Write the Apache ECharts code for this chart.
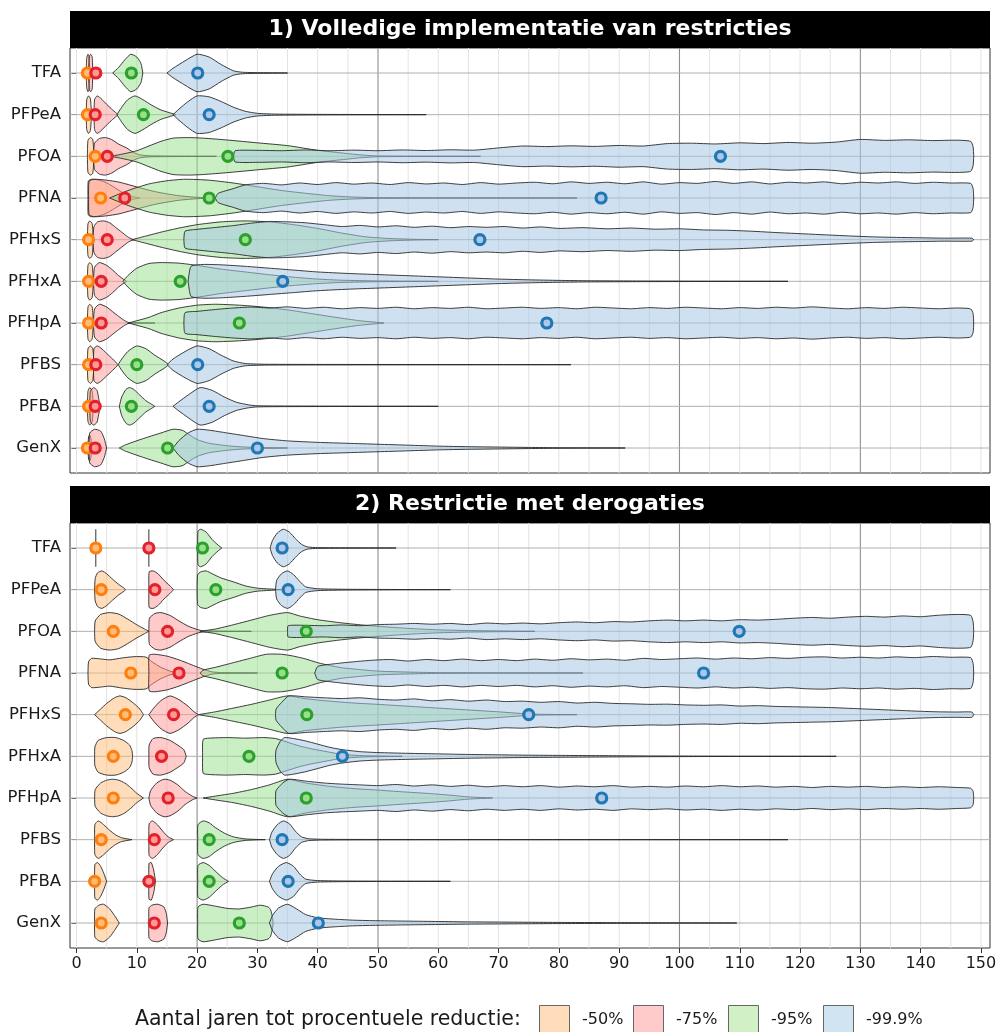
<!DOCTYPE html>
<html><head><meta charset="utf-8">
<script src="https://cdn.jsdelivr.net/npm/echarts@6/dist/echarts.min.js"></script>
<style>html,body{margin:0;padding:0;background:#fff}#c{width:1000px;height:1032px}</style>
</head><body><div id="c"></div>
<script>
// ---------- data ----------
const categories = ['TFA','PFPeA','PFOA','PFNA','PFHxS','PFHxA','PFHpA','PFBS','PFBA','GenX'];
const groups = ['-50%','-75%','-95%','-99.9%'];
const xTicks = [0,10,20,30,40,50,60,70,80,90,100,110,120,130,140,150];
const xGridLines = [0,5,10,15,20,25,30,35,40,45,50,55,60,65,70,75,80,85,90,95,100,105,110,115,120,125,130,135,140,145,150];
const xDarkLines = [20,50,100,130];
const panelTitles = ['1) Volledige implementatie van restricties','2) Restrictie met derogaties'];
const legendTitle = 'Aantal jaren tot procentuele reductie:';

// violin profiles: [years, relative half-width]
const p1v50 = [
 [[1.6,0],[1.7,0.8],[1.9,1],[2.1,0.85],[2.2,0]],
 [[1.6,0],[1.7,0.8],[2.0,1],[2.3,0.85],[2.5,0]],
 [[1.8,0],[1.9,0.85],[2.3,1],[2.7,0.9],[2.9,0]],
 [[1.9,0],[1.95,0.9],[2.5,1],[3.5,0.97],[4.5,0.88],[5.5,0.72],[6.5,0.52],[7.5,0.32],[8.5,0.16],[9.5,0.06],[10.5,0]],
 [[1.8,0],[1.9,0.85],[2.2,1],[2.6,0.85],[2.8,0]],
 [[1.8,0],[1.9,0.85],[2.2,1],[2.6,0.85],[2.8,0]],
 [[1.8,0],[1.9,0.85],[2.2,1],[2.6,0.85],[2.8,0]],
 [[1.8,0],[1.9,0.85],[2.3,1],[2.7,0.85],[2.9,0]],
 [[1.8,0],[1.9,0.8],[2.2,1],[2.6,0.8],[2.8,0]],
 [[1.9,0],[2.0,0.6],[2.2,0.7],[2.4,0.5],[2.5,0]]
];
const p1v75 = [
 [[2.0,0],[2.1,0.85],[2.35,1],[2.6,0.85],[2.7,0]],
 [[2.9,0],[3.0,0.8],[3.4,1],[4,0.88],[5,0.55],[6,0.25],[6.9,0]],
 [[2.8,0],[3,0.7],[3.8,0.95],[4.8,1],[5.8,0.9],[7,0.65],[8.3,0.45],[9.5,0.2],[10.5,0.08],[12,0.03],[15,0.015],[23.2,0]],
 [[2,0],[2.1,0.9],[3,1],[5,0.95],[7,0.85],[9,0.68],[11,0.5],[13,0.34],[15,0.22],[17,0.12],[19,0.06],[21,0.02],[23,0]],
 [[2.7,0],[2.9,0.7],[3.5,0.95],[4.5,1],[5.5,0.9],[6.5,0.65],[7.5,0.4],[8.5,0.15],[9.2,0.03],[9.6,0]],
 [[2.8,0],[3,0.75],[3.8,1],[5,0.85],[6,0.6],[7,0.3],[8,0.06],[8.3,0]],
 [[2.8,0],[3,0.75],[3.8,1],[5,0.85],[6,0.6],[7,0.35],[8,0.12],[8.7,0.02],[13,0]],
 [[2.8,0],[2.9,0.85],[3.4,1],[4,0.9],[5,0.6],[6,0.3],[6.9,0]],
 [[2.2,0],[2.3,0.8],[2.8,1],[3.4,0.85],[3.9,0]],
 [[2.1,0],[2.2,0.8],[3,1],[4,0.9],[4.6,0.5],[5,0]]
];
const p1v95 = [
 [[6.0,0],[7,0.3],[8,0.7],[9,1],[10,0.85],[10.7,0.5],[11.0,0]],
 [[6.7,0],[7.5,0.4],[8.5,0.8],[9.7,1],[11,0.8],[12.5,0.5],[14,0.25],[16,0.05],[16.5,0]],
 [[5.6,0],[7,0.08],[8.5,0.18],[10,0.3],[12,0.55],[14,0.8],[16,0.97],[18.5,1],[21,0.97],[25,0.87],[30,0.72],[35,0.57],[40,0.32],[44,0.18],[47,0.08],[50,0.02],[67,0]],
 [[5.5,0],[7,0.2],[9,0.45],[12,0.75],[15,0.92],[18,1],[22,0.95],[26,0.8],[30,0.6],[34,0.4],[38,0.25],[42,0.12],[46,0.05],[50,0.02],[60,0.01],[83,0]],
 [[9.2,0],[11,0.15],[14,0.4],[17,0.62],[20,0.8],[24,0.95],[28,1],[32,0.95],[36,0.8],[40,0.6],[44,0.35],[48,0.15],[52,0.06],[56,0.02],[60,0]],
 [[7.7,0],[8.5,0.3],[10,0.7],[12,0.95],[14,1],[17,0.97],[20,0.85],[24,0.65],[28,0.5],[32,0.35],[36,0.22],[40,0.12],[44,0.06],[50,0.02],[60,0]],
 [[8.6,0],[10,0.12],[12,0.3],[14,0.55],[17,0.8],[20,0.95],[23,1],[27,0.95],[31,0.85],[35,0.7],[39,0.5],[43,0.3],[47,0.12],[50,0.03],[51,0]],
 [[6.9,0],[7.5,0.3],[8.5,0.7],[10,1],[11.5,0.85],[13,0.5],[14.5,0.2],[15.3,0]],
 [[7.1,0],[7.5,0.5],[8.2,0.9],[8.8,1],[9.5,0.9],[10.5,0.6],[11.5,0.3],[12.5,0.1],[13,0]],
 [[7.1,0],[8,0.15],[9.5,0.33],[12,0.6],[14,0.8],[16,1],[17.5,0.95],[18.5,0.75],[20,0.45],[22,0.25],[25,0.12],[28,0.05],[32,0.02],[35,0]]
];
const p1v999 = [
 [[15,0],[16,0.25],[18,0.65],[20,1],[22,0.85],[24,0.45],[26,0.12],[27.5,0.04],[30,0.02],[35,0]],
 [[16,0],[17,0.3],[18.5,0.7],[20,1],[22,0.95],[24,0.7],[26,0.4],[28,0.18],[30,0.07],[33,0.03],[40,0.015],[58,0]],
 [[26,0],[26.3,0.3],[30,0.32],[34,0.3],[38,0.34],[42,0.3],[46,0.33],[50,0.3],[54,0.34],[58,0.31],[62,0.35],[66,0.33],[70,0.45],[74,0.55],[78,0.52],[82,0.56],[86,0.53],[90,0.58],[94,0.55],[98,0.68],[102,0.7],[106,0.66],[110,0.72],[114,0.68],[118,0.74],[122,0.7],[126,0.76],[130,0.9],[134,0.85],[138,0.88],[142,0.84],[146,0.86],[148.3,0.8],[148.7,0.5],[148.8,0]],
 [[23,0],[23.5,0.25],[26,0.5],[28,0.7],[31,0.78],[34,0.7],[37,0.8],[40,0.72],[43,0.82],[46,0.74],[49,0.8],[52,0.72],[55,0.82],[58,0.75],[61,0.8],[64,0.72],[67,0.82],[70,0.74],[73,0.8],[76,0.84],[79,0.76],[82,0.86],[85,0.78],[88,0.84],[91,0.76],[94,0.86],[97,0.74],[100,0.82],[103,0.78],[106,0.88],[109,0.78],[112,0.86],[115,0.75],[118,0.84],[121,0.8],[124,0.86],[127,0.76],[130,0.84],[133,0.8],[136,0.86],[139,0.78],[142,0.84],[145,0.8],[148.3,0.78],[148.7,0.5],[148.8,0]],
 [[17.8,0],[18,0.45],[20,0.55],[23,0.65],[26,0.75],[29,0.88],[32,0.97],[35,0.95],[38,0.9],[41,0.8],[44,0.7],[47,0.76],[50,0.68],[53,0.74],[56,0.66],[59,0.72],[62,0.64],[65,0.7],[68,0.66],[71,0.7],[74,0.62],[77,0.68],[80,0.6],[84,0.64],[88,0.58],[92,0.62],[96,0.56],[100,0.58],[104,0.52],[108,0.5],[112,0.45],[116,0.38],[120,0.32],[124,0.26],[128,0.2],[132,0.15],[136,0.12],[140,0.1],[144,0.08],[148.5,0.08],[148.8,0]],
 [[18.5,0],[19,0.8],[21,0.9],[24,0.88],[28,0.8],[32,0.7],[36,0.6],[40,0.5],[45,0.42],[50,0.36],[55,0.3],[60,0.24],[65,0.18],[70,0.12],[75,0.08],[80,0.05],[85,0.03],[95,0.015],[118,0]],
 [[17.8,0],[18,0.55],[20,0.62],[23,0.72],[26,0.8],[29,0.85],[32,0.8],[35,0.86],[38,0.78],[41,0.84],[44,0.76],[47,0.82],[50,0.78],[53,0.84],[56,0.76],[59,0.82],[62,0.78],[65,0.84],[68,0.76],[71,0.8],[74,0.84],[77,0.78],[80,0.82],[83,0.76],[86,0.84],[89,0.8],[92,0.76],[95,0.82],[98,0.78],[101,0.84],[104,0.8],[107,0.76],[110,0.82],[113,0.78],[116,0.84],[119,0.8],[122,0.86],[125,0.8],[128,0.76],[131,0.82],[134,0.78],[137,0.84],[140,0.8],[143,0.76],[146,0.8],[148.3,0.75],[148.7,0.5],[148.8,0]],
 [[15,0],[16,0.3],[18,0.7],[20,1],[22,0.85],[24,0.5],[26,0.2],[28,0.06],[32,0.02],[50,0.01],[82,0]],
 [[16,0],[17,0.25],[18.5,0.6],[20.5,1],[22.5,0.85],[24.5,0.5],[26.5,0.22],[28.5,0.08],[30,0.03],[35,0.015],[60,0]],
 [[16,0],[17,0.4],[18.5,0.8],[20,1],[22,0.95],[25,0.8],[28,0.65],[31,0.5],[35,0.38],[40,0.3],[45,0.25],[50,0.2],[55,0.15],[60,0.1],[65,0.07],[70,0.05],[75,0.03],[80,0.015],[91,0]]
];
const p2v50 = [
 [[3.2,1]],
 [[3,0],[3.1,0.6],[3.5,0.9],[4.2,1],[5,0.85],[6,0.55],[7,0.28],[8,0.05],[8.1,0]],
 [[3,0],[3.1,0.55],[4,0.9],[5.5,1],[7,0.92],[8.5,0.65],[10,0.35],[11.3,0.12],[12,0]],
 [[1.9,0],[2,0.6],[2.5,0.78],[4,0.75],[5.5,0.7],[7.5,0.8],[9.5,0.87],[11.5,0.85],[12.5,0.6],[14,0.3],[15.5,0.1],[17,0]],
 [[3,0],[4,0.3],[5,0.6],[6.3,0.9],[7.2,1],[8.2,0.9],[9.5,0.6],[10.5,0.3],[11.1,0]],
 [[3,0],[3.05,0.5],[3.6,0.85],[5,1],[6.5,1],[7.8,0.85],[8.8,0.6],[9.2,0.3],[9.3,0]],
 [[3,0],[3.1,0.45],[4,0.8],[5,0.95],[6,1],[7,0.95],[8,0.8],[9,0.55],[10,0.25],[11.1,0]],
 [[3,0],[3.05,0.8],[3.6,1],[4.5,0.8],[5.5,0.5],[6.5,0.25],[7.5,0.1],[9.2,0]],
 [[3,0],[3.05,0.9],[3.5,1],[4,0.8],[4.5,0.45],[5,0]],
 [[3,0],[3.05,0.75],[3.7,0.95],[4.5,1],[5.5,0.75],[6.3,0.4],[7.1,0]]
];
const p2v75 = [
 [[12.0,1]],
 [[12,0],[12.05,0.95],[12.7,1],[13.5,0.85],[14.5,0.5],[15.5,0.2],[16.1,0]],
 [[12,0],[12.1,0.7],[13,0.95],[14,1],[15.5,0.85],[17,0.55],[18.5,0.28],[20,0.1],[21,0.03],[29,0]],
 [[12,0],[12.05,0.95],[13,1],[15,0.9],[17,0.7],[19,0.45],[21,0.2],[22.5,0.06],[24,0.02],[30,0]],
 [[12,0],[12.8,0.35],[14,0.75],[15.5,1],[17,0.8],[18.5,0.45],[19.5,0.15],[20.2,0]],
 [[12,0],[12.05,0.6],[12.7,0.95],[14,1],[15.5,0.85],[17,0.55],[17.8,0.35],[18.2,0]],
 [[12,0],[12.3,0.4],[13.3,0.8],[14.5,1],[15.5,0.95],[16.8,0.7],[18,0.35],[19.2,0.1],[20,0]],
 [[12,0],[12.05,0.85],[12.6,1],[13.4,0.8],[14.3,0.45],[15.2,0.15],[16.1,0]],
 [[12,0],[12.02,0.95],[12.4,1],[12.8,0.6],[13.1,0]],
 [[12,0],[12.02,0.8],[12.5,0.95],[13.5,1],[14.5,0.85],[14.9,0.5],[15.1,0]]
];
const p2v95 = [
 [[20.1,0],[20.15,0.9],[20.6,1],[21.5,0.85],[22.5,0.45],[23.5,0.15],[24.1,0]],
 [[20,0],[20.1,0.8],[20.6,0.95],[21.5,1],[22.5,0.85],[24,0.62],[26,0.42],[28,0.2],[30,0.08],[33,0.02],[34,0]],
 [[20.5,0],[23,0.12],[26,0.35],[29,0.6],[32,0.85],[35,1],[37,0.82],[40,0.62],[44,0.45],[48,0.32],[52,0.22],[56,0.14],[60,0.08],[65,0.04],[70,0.02],[76,0]],
 [[20.5,0],[21,0.15],[23,0.3],[26,0.55],[29,0.8],[31.5,1],[34,1],[36,0.9],[38,0.75],[40,0.55],[42,0.4],[44,0.28],[47,0.18],[50,0.1],[55,0.05],[60,0.02],[70,0.01],[84,0]],
 [[20.2,0],[23,0.15],[26,0.35],[29,0.55],[32,0.78],[35,1],[38,0.85],[42,0.72],[46,0.62],[50,0.55],[55,0.45],[60,0.35],[65,0.25],[70,0.15],[74,0.06],[77,0.02],[83,0]],
 [[20.9,0],[21,0.9],[22,0.97],[25,1],[28,0.97],[31,1],[33,0.95],[35,0.75],[37,0.55],[39,0.4],[41,0.28],[43,0.16],[45,0.08],[48,0.03],[54,0]],
 [[21,0],[23,0.1],[26,0.25],[29,0.45],[32,0.7],[35,1],[38,0.8],[42,0.62],[46,0.5],[50,0.42],[54,0.33],[58,0.25],[62,0.15],[65,0.06],[69,0]],
 [[20.1,0],[20.15,0.8],[21,1],[22,0.9],[23,0.65],[24.5,0.35],[26,0.15],[28,0.04],[31.3,0]],
 [[20.1,0],[20.15,0.85],[21,1],[22,0.85],[23,0.55],[24.2,0.2],[25.2,0]],
 [[20.1,0],[20.15,0.85],[21,1],[23,0.9],[25,0.78],[27,0.75],[29,0.85],[30.5,0.95],[31.8,0.85],[32.2,0.7],[32.5,0.3],[32.6,0]]
];
const p2v999 = [
 [[32.1,0],[32.5,0.4],[33.3,0.8],[34.3,1],[35.3,0.85],[36.3,0.5],[37.3,0.2],[38.3,0.06],[40,0.02],[53,0]],
 [[33,0],[33.2,0.5],[34,0.85],[35,1],[36,0.8],[37,0.45],[38,0.15],[40,0.05],[45,0.02],[62,0]],
 [[35,0],[35.1,0.3],[38,0.32],[41,0.3],[44,0.34],[47,0.3],[50,0.36],[53,0.38],[56,0.42],[59,0.38],[62,0.42],[65,0.36],[68,0.44],[71,0.4],[74,0.44],[77,0.4],[80,0.46],[83,0.5],[86,0.46],[89,0.52],[92,0.5],[95,0.56],[98,0.6],[101,0.56],[104,0.6],[107,0.56],[110,0.62],[113,0.6],[116,0.64],[119,0.7],[122,0.74],[125,0.7],[128,0.76],[131,0.8],[134,0.76],[137,0.82],[140,0.78],[143,0.86],[146,0.9],[148.3,0.85],[148.7,0.5],[148.8,0]],
 [[39.5,0],[40,0.35],[43,0.5],[46,0.6],[49,0.68],[52,0.72],[55,0.64],[58,0.72],[61,0.66],[64,0.74],[67,0.66],[70,0.72],[73,0.66],[76,0.74],[79,0.68],[82,0.76],[85,0.7],[88,0.74],[91,0.68],[94,0.78],[97,0.72],[100,0.76],[103,0.8],[106,0.74],[109,0.8],[112,0.76],[115,0.82],[118,0.78],[121,0.84],[124,0.86],[127,0.8],[130,0.84],[133,0.8],[136,0.86],[139,0.82],[142,0.88],[145,0.84],[148.3,0.82],[148.7,0.5],[148.8,0]],
 [[33,0],[33.1,0.3],[34,0.65],[35.2,1],[38,0.95],[41,0.9],[44,0.86],[47,0.9],[50,0.82],[53,0.78],[56,0.84],[59,0.74],[62,0.8],[65,0.72],[68,0.78],[71,0.7],[74,0.72],[77,0.66],[80,0.7],[83,0.62],[86,0.66],[89,0.6],[92,0.58],[95,0.55],[98,0.56],[101,0.52],[104,0.5],[107,0.52],[110,0.46],[113,0.48],[116,0.44],[119,0.42],[122,0.4],[125,0.38],[128,0.34],[131,0.3],[134,0.26],[137,0.22],[140,0.18],[143,0.15],[146,0.14],[148.5,0.14],[148.8,0]],
 [[33,0],[33.1,0.35],[33.8,0.8],[34.5,1],[36,0.95],[38,0.82],[40,0.65],[42,0.48],[44,0.36],[47,0.25],[50,0.2],[55,0.16],[60,0.13],[65,0.1],[70,0.08],[75,0.06],[80,0.05],[85,0.04],[90,0.03],[95,0.02],[105,0.01],[126,0]],
 [[33,0],[33.1,0.4],[34.2,0.8],[35.3,1],[38,0.9],[41,0.8],[44,0.74],[47,0.7],[50,0.66],[53,0.72],[56,0.64],[59,0.7],[62,0.62],[65,0.68],[68,0.6],[71,0.66],[74,0.6],[77,0.66],[80,0.58],[83,0.64],[86,0.6],[89,0.66],[92,0.58],[95,0.62],[98,0.58],[101,0.64],[104,0.6],[107,0.66],[110,0.6],[113,0.64],[116,0.58],[119,0.62],[122,0.56],[125,0.62],[128,0.58],[131,0.62],[134,0.56],[137,0.6],[140,0.56],[143,0.6],[146,0.56],[148.3,0.52],[148.7,0.35],[148.8,0]],
 [[32,0],[32.4,0.4],[33.3,0.8],[34.3,1],[35.3,0.85],[36.3,0.45],[37.3,0.15],[38.5,0.05],[41,0.02],[50,0.01],[118,0]],
 [[32,0],[32.5,0.4],[33.5,0.8],[34.8,1],[36,0.8],[37,0.4],[38,0.12],[40,0.04],[45,0.015],[62,0]],
 [[32,0],[32.5,0.4],[33.5,0.8],[35,1],[36.5,0.75],[38,0.45],[40,0.28],[43,0.2],[46,0.15],[50,0.12],[55,0.1],[60,0.08],[65,0.06],[70,0.05],[75,0.04],[80,0.03],[90,0.02],[100,0.01],[109.5,0]]
];
// point estimates (years)
const p1pt50  = [1.8,1.8,3.1,4.0,2.0,2.0,2.0,2.0,2.0,1.8];
const p1pt75  = [3.2,3.1,5.1,8.0,5.1,4.1,4.1,3.2,3.1,3.1];
const p1pt95  = [9.1,11.1,25.1,22.0,28.0,17.2,27.0,10.0,9.1,15.1];
const p1pt999 = [20.1,22.0,106.8,87.0,66.9,34.2,78.0,20.1,22.0,30.0];
const p2pt50  = [3.2,4.1,6.1,9.0,8.1,6.1,6.1,4.1,3.0,4.1];
const p2pt75  = [12.0,13.0,15.1,17.0,16.1,14.1,15.2,12.9,12.0,12.9];
const p2pt95  = [20.9,23.1,38.1,34.1,38.2,28.6,38.1,22.0,22.0,27.0];
const p2pt999 = [34.1,35.1,109.9,104.0,75.0,44.1,87.1,34.1,35.1,40.1];

// ---------- style ----------
const FONT = 'DejaVu Sans';
const violinFill = ['rgba(255,187,120,0.5)','rgba(255,152,150,0.5)','rgba(152,223,138,0.5)','rgba(168,200,228,0.55)'];
const keyFill = ['#ffddbb','#ffcbca','#d2f0c6','#d1e4f1'];
const ringColor = ['#ff7f0e','#e2212a','#2ca02c','#1f77b4'];
const dotFill = ['#ffbb78','#ff9896','#98df8a','#aec7e8'];
const XMIN = -1.08, XMAX = 151.5, HW = 0.45;

const panels = [
  {violins:[p1v50,p1v75,p1v95,p1v999], points:[p1pt50,p1pt75,p1pt95,p1pt999]},
  {violins:[p2v50,p2v75,p2v95,p2v999], points:[p2pt50,p2pt75,p2pt95,p2pt999]}
];
const gridTops = [48, 523];
const catIdx = categories.map((c,i)=>[i]);

const chart = echarts.init(document.getElementById('c'), null, {renderer:'canvas'});
const grids = [], xAxes = [], yAxes = [], series = [];
panels.forEach((p, k) => {
  grids.push({left:70, right:10, top:gridTops[k], height:425, show:true, borderColor:'#333', borderWidth:1, backgroundColor:'#fff'});
  xAxes.push({type:'value', gridIndex:k, min:XMIN, max:XMAX, splitLine:{show:false}, axisLine:{show:false},
    axisTick:{show:k===1, customValues:xTicks, length:5, lineStyle:{color:'#333'}},
    axisLabel:{show:k===1, customValues:xTicks, color:'#1a1a1a', fontFamily:FONT, fontSize:16, margin:8}});
  yAxes.push({type:'value', gridIndex:k, min:0.4, max:10.6, inverse:true, splitLine:{show:false}, axisLine:{show:false},
    axisTick:{show:true, customValues:[1,2,3,4,5,6,7,8,9,10], length:5, lineStyle:{color:'#333'}},
    axisLabel:{customValues:[1,2,3,4,5,6,7,8,9,10], formatter:v=>categories[Math.round(v)-1]||'', color:'#1a1a1a', fontFamily:FONT, fontSize:16.5, margin:9}});
  series.push({type:'custom', xAxisIndex:k, yAxisIndex:k, silent:true, z:1, data:xGridLines.map(v=>[v]),
    renderItem:(params, api)=>{
      const v = api.value(0); const dark = xDarkLines.indexOf(v)>=0;
      const a = api.coord([v,0.4]), b = api.coord([v,10.6]);
      return {type:'line', shape:{x1:a[0],y1:a[1],x2:b[0],y2:b[1]}, style:{stroke: dark?'#8f8f8f':'#e2e2e2', lineWidth: dark?1.1:1}};
    }});
  series.push({type:'custom', xAxisIndex:k, yAxisIndex:k, silent:true, z:1, data:catIdx,
    renderItem:(params, api)=>{
      const i = api.value(0);
      const a = api.coord([XMIN,i+1]), b = api.coord([XMAX,i+1]);
      return {type:'line', shape:{x1:a[0],y1:a[1],x2:b[0],y2:b[1]}, style:{stroke:'#b0b0b0', lineWidth:1}};
    }});
  p.violins.forEach((prof, g) => {
    series.push({type:'custom', name:groups[g], xAxisIndex:k, yAxisIndex:k, silent:true, z:2+g*0.1, data:catIdx,
      itemStyle:{color:violinFill[g]},
      renderItem:(params, api)=>{
        const i = api.value(0); const pr = prof[i]; const y0 = i+1;
        if (!pr) return;
        if (pr.length === 1) {
          const a = api.coord([pr[0][0], y0-HW*pr[0][1]]), b = api.coord([pr[0][0], y0+HW*pr[0][1]]);
          return {type:'line', shape:{x1:a[0],y1:a[1],x2:b[0],y2:b[1]}, style:{stroke:'#333', lineWidth:1}};
        }
        const top = pr.map(q=>api.coord([q[0], y0 - q[1]*HW]));
        const bot = pr.slice().reverse().map(q=>api.coord([q[0], y0 + q[1]*HW]));
        return {type:'polygon', shape:{points:top.concat(bot), smooth:0.2},
          style:{fill:violinFill[g], stroke:'rgba(40,40,40,0.9)', lineWidth:1}};
      }});
  });
  p.points.forEach((vals, g) => {
    series.push({type:'scatter', name:groups[g]+' punt', xAxisIndex:k, yAxisIndex:k, silent:true, z:5,
      symbol:'circle', symbolSize:10,
      itemStyle:{color:dotFill[g], borderColor:ringColor[g], borderWidth:3.2, opacity:1},
      data:vals.map((v,i)=>[v,i+1])});
  });
});

const graphic = [];
[11, 486].forEach((y, k) => {
  graphic.push({type:'rect', shape:{x:70,y:y,width:920,height:37}, style:{fill:'#000'}, z:10});
  graphic.push({type:'text', x:530, y:y+18.5, style:{text:panelTitles[k], fill:'#fff', font:'bold 22px "DejaVu Sans"', textAlign:'center', textVerticalAlign:'middle'}, z:11});
});
graphic.push({type:'text', x:135, y:1020, style:{text:legendTitle, fill:'#1a1a1a', font:'20.5px "DejaVu Sans"', textAlign:'left', textVerticalAlign:'middle'}});
const keyX = [539, 633, 728, 823];
groups.forEach((g, i) => {
  graphic.push({type:'rect', shape:{x:keyX[i]+0.5, y:1005.5, width:30, height:30}, style:{fill:keyFill[i], stroke:'#666', lineWidth:1}});
  graphic.push({type:'text', x:keyX[i]+43, y:1020, style:{text:g, fill:'#1a1a1a', font:'16px "DejaVu Sans"', textAlign:'left', textVerticalAlign:'middle'}});
});

chart.setOption({
  animation:false, backgroundColor:'#fff',
  textStyle:{fontFamily:FONT},
  grid:grids, xAxis:xAxes, yAxis:yAxes, series:series, graphic:graphic
});
</script></body></html>
